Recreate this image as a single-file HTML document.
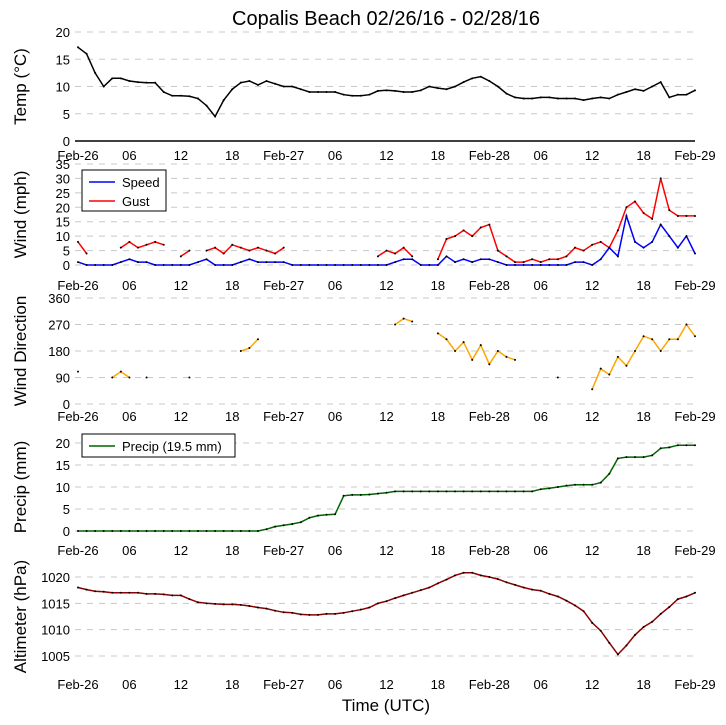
<!DOCTYPE html>
<html><head><meta charset="utf-8">
<style>
html,body{margin:0;padding:0;background:#fff;}
svg{display:block;font-family:"Liberation Sans","DejaVu Sans",sans-serif;}
</style></head>
<body>
<svg id="chart" width="726" height="725" viewBox="0 0 726 725"></svg>
<script>
const xTickLabels=["Feb-26","06","12","18","Feb-27","06","12","18","Feb-28","06","12","18","Feb-29"];
const hours=[];for(let i=0;i<=72;i++)hours.push(i);
const tempValues=[17.2,16,12.5,10,11.5,11.5,11,10.8,10.7,10.7,9,8.3,8.3,8.2,7.8,6.5,4.5,7.5,9.5,10.7,11,10.3,11,10.5,10,10,9.5,9,9,9,9,8.5,8.3,8.3,8.5,9.2,9.3,9.2,9,9,9.3,10,9.7,9.5,10,10.8,11.5,11.8,11,10,8.7,8,7.8,7.8,8,8,7.8,7.8,7.8,7.5,7.8,8,7.8,8.5,9,9.5,9.2,10,10.8,8,8.5,8.5,9.3];
const speedValues=[1,0,0,0,0,1,2,1,1,0,0,0,0,0,1,2,0,0,0,1,2,1,1,1,1,0,0,0,0,0,0,0,0,0,0,0,0,1,2,2,0,0,0,3,1,2,1,2,2,1,0,0,0,0,0,0,0,0,1,1,0,2,6,3,17,8,6,8,14,10,6,10,4];
const gustValues=[8,4,null,null,null,6,8,6,7,8,7,null,3,5,null,5,6,4,7,6,5,6,5,4,6,null,null,null,null,null,null,null,null,null,null,3,5,4,6,3,null,null,2,9,10,12,10,13,14,5,3,1,1,2,1,2,2,3,6,5,7,8,6,12,20,22,18,16,30,19,17,17,17];
const dirValues=[110,null,null,null,90,110,90,null,90,null,null,null,null,90,null,null,null,null,null,180,190,220,null,null,null,null,null,null,null,null,null,null,null,null,null,null,null,270,290,280,null,null,240,220,180,210,150,200,135,180,160,150,null,null,null,null,90,null,null,null,50,120,100,160,130,180,230,220,180,220,220,270,230];
const precipValues=[0,0,0,0,0,0,0,0,0,0,0,0,0,0,0,0,0,0,0,0,0,0,0.4,1,1.3,1.6,2,3,3.5,3.7,3.8,8,8.2,8.2,8.3,8.5,8.7,9,9,9,9,9,9,9,9,9,9,9,9,9,9,9,9,9,9.5,9.7,10,10.3,10.5,10.5,10.5,11,13,16.5,16.8,16.8,16.8,17.2,18.8,19,19.5,19.5,19.5];
const altValues=[1018,1017.6,1017.3,1017.2,1017,1017,1017,1017,1016.8,1016.8,1016.7,1016.5,1016.5,1015.8,1015.2,1015,1014.9,1014.8,1014.8,1014.7,1014.5,1014.2,1014,1013.6,1013.3,1013.2,1012.9,1012.8,1012.8,1013,1013,1013.2,1013.5,1013.8,1014.2,1015,1015.4,1016,1016.5,1017,1017.5,1018,1018.8,1019.5,1020.3,1020.8,1020.8,1020.3,1020,1019.6,1019,1018.5,1018,1017.6,1017.4,1016.8,1016.3,1015.5,1014.6,1013.5,1011.3,1009.8,1007.5,1005.3,1007,1009,1010.5,1011.5,1013,1014.3,1015.8,1016.3,1017];

const svg=document.getElementById('chart');
const NS="http://www.w3.org/2000/svg";
function mk(tag,attrs,parent){const e=document.createElementNS(NS,tag);for(const k in attrs)e.setAttribute(k,attrs[k]);(parent||svg).appendChild(e);return e;}
const X0=78,X1=695;
function xScale(h){return X0+(X1-X0)*h/72;}

const title=mk('text',{x:386,y:25,'text-anchor':'middle','font-size':20,fill:'#000'});
title.textContent="Copalis Beach 02/26/16 - 02/28/16";



function panel(cfg){
  const g=mk('g',{});
  
  
  const ys=v=>cfg.yb+(cfg.yt-cfg.yb)*(v-cfg.vmin)/(cfg.vmax-cfg.vmin);
  cfg.ticks.forEach(t=>{
    const y=ys(t);
    if(!(cfg.solidZero&&t===cfg.ticks[0])){
      const gl=mk('line',{x1:75,x2:X1,y1:y,y2:y,stroke:'#c8c8c8','stroke-dasharray':'6,6','stroke-width':1},g);
      
      
    }
    const tl=mk('text',{x:70,y:y+5,'text-anchor':'end','font-size':13},g);
    tl.textContent=t;
    
    
  });
  if(cfg.solidZero){
    const ax=mk('line',{x1:75,x2:X1,y1:ys(cfg.ticks[0]),y2:ys(cfg.ticks[0]),stroke:'#000','stroke-width':1.5},g);
    
    
  }
  xTickLabels.forEach((lab,i)=>{
    const t=mk('text',{x:xScale(i*6),y:cfg.tickY,'text-anchor':'middle','font-size':13},g);
    t.textContent=lab;
    
    
  });
  const ly=(cfg.yt+cfg.yb)/2;
  const yl=mk('text',{x:26,y:ly,'text-anchor':'middle','font-size':17,transform:`rotate(-90 26 ${ly})`},g);
  yl.textContent=cfg.label;
  
  
  cfg.series.forEach(s=>{
    let seg=[];const segs=[];
    s.values.forEach((v,i)=>{if(v===null||v===undefined){if(seg.length)segs.push(seg);seg=[];}else seg.push([xScale(hours[i]),ys(v)]);});
    if(seg.length)segs.push(seg);
    segs.forEach(sg=>{
      if(sg.length>1){
        const p=mk('polyline',{points:sg.map(q=>q[0].toFixed(1)+','+q[1].toFixed(1)).join(' '),fill:'none',stroke:s.color,'stroke-width':1.5},g);
        
        
      }
      sg.forEach(q=>{
        const c=mk('circle',{cx:q[0],cy:q[1],r:1,fill:'#000'},g);
        
        
      });
    });
  });
}

panel({name:'temperature',label:'Temp (°C)',vmin:0,vmax:20,yb:141,yt:32,ticks:[0,5,10,15,20],tickY:160,solidZero:true,
  series:[{name:'temperature',values:tempValues,color:'#000'}]});
panel({name:'wind-speed',label:'Wind (mph)',vmin:0,vmax:35,yb:265,yt:164,ticks:[0,5,10,15,20,25,30,35],tickY:290,
  series:[{name:'gust',values:gustValues,color:'#ff0000'},{name:'speed',values:speedValues,color:'#0000ff'}]});
panel({name:'wind-direction',label:'Wind Direction',vmin:0,vmax:360,yb:404,yt:298,ticks:[0,90,180,270,360],tickY:421,
  series:[{name:'wind-direction',values:dirValues,color:'#ffa500'}]});
panel({name:'precip',label:'Precip (mm)',vmin:0,vmax:20,yb:531,yt:443,ticks:[0,5,10,15,20],tickY:555,
  series:[{name:'precip',values:precipValues,color:'#006400'}]});
panel({name:'altimeter',label:'Altimeter (hPa)',vmin:1005,vmax:1020,yb:656,yt:577,ticks:[1005,1010,1015,1020],tickY:689,
  series:[{name:'altimeter',values:altValues,color:'#8b0000'}]});

const xt=mk('text',{x:386,y:711,'text-anchor':'middle','font-size':17});
xt.textContent="Time (UTC)";



function legend(x,y,w,h,items,name){
  const g=mk('g',{});
  
  
  mk('rect',{x:x,y:y,width:w,height:h,fill:'#fff',stroke:'#000','stroke-width':1},g);
  items.forEach((it,i)=>{
    const yy=y+12+i*19;
    const l=mk('line',{x1:x+7,x2:x+33,y1:yy,y2:yy,stroke:it.color,'stroke-width':1.5},g);
    
    
    const t=mk('text',{x:x+40,y:yy+5,'font-size':13},g);
    t.textContent=it.label;
    
    
  });
}
legend(82,170,84,41,[{label:'Speed',color:'#0000ff'},{label:'Gust',color:'#ff0000'}],'wind-legend');
legend(82,434,153,23,[{label:'Precip (19.5 mm)',color:'#006400'}],'precip-legend');
</script>
</body></html>
